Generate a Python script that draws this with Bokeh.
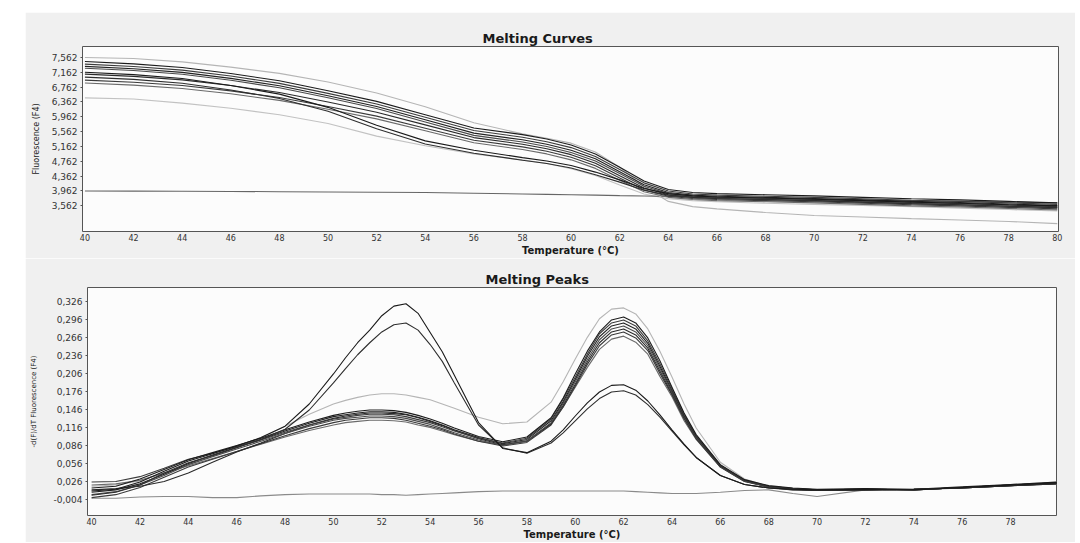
from bokeh.plotting import figure
from bokeh.layouts import column, row
from bokeh.models import FixedTicker, CustomJSTickFormatter, Range1d, Spacer
from bokeh.embed import file_html
from bokeh.resources import INLINE

# ---------------- data: Melting Curves (fluorescence) ----------------
T_TOP = [40, 42, 44, 46, 48, 50, 52, 54, 56, 58, 59, 60, 61, 62, 63, 64, 65, 66, 68, 70, 72, 74, 76, 78, 80]

CURVE_B1 = [7.450, 7.387, 7.289, 7.128, 6.931, 6.662, 6.376, 6.018, 5.660, 5.480, 5.360, 5.200, 4.960, 4.600, 4.230, 4.000, 3.920, 3.890, 3.860, 3.830, 3.790, 3.750, 3.720, 3.680, 3.640]
CURVE_B2 = [7.380, 7.317, 7.219, 7.058, 6.861, 6.592, 6.306, 5.948, 5.590, 5.410, 5.290, 5.130, 4.890, 4.540, 4.180, 3.960, 3.880, 3.850, 3.820, 3.790, 3.750, 3.710, 3.680, 3.640, 3.600]
CURVE_B3 = [7.320, 7.257, 7.158, 6.996, 6.798, 6.528, 6.240, 5.880, 5.520, 5.340, 5.220, 5.060, 4.830, 4.480, 4.130, 3.920, 3.850, 3.820, 3.790, 3.760, 3.720, 3.680, 3.650, 3.610, 3.570]
CURVE_B4 = [7.270, 7.207, 7.107, 6.944, 6.745, 6.474, 6.184, 5.822, 5.460, 5.280, 5.160, 5.000, 4.770, 4.430, 4.090, 3.890, 3.820, 3.790, 3.760, 3.730, 3.690, 3.650, 3.620, 3.580, 3.540]
CURVE_B5 = [7.110, 7.050, 6.956, 6.802, 6.614, 6.358, 6.084, 5.742, 5.400, 5.220, 5.100, 4.940, 4.710, 4.370, 4.040, 3.860, 3.790, 3.760, 3.730, 3.700, 3.660, 3.620, 3.590, 3.550, 3.510]
CURVE_B6 = [6.950, 6.893, 6.804, 6.658, 6.480, 6.237, 5.978, 5.654, 5.330, 5.150, 5.030, 4.870, 4.640, 4.310, 3.990, 3.820, 3.760, 3.730, 3.700, 3.670, 3.630, 3.590, 3.560, 3.520, 3.480]
CURVE_B7 = [6.870, 6.814, 6.725, 6.580, 6.403, 6.162, 5.904, 5.582, 5.260, 5.080, 4.960, 4.800, 4.570, 4.250, 3.940, 3.790, 3.730, 3.700, 3.670, 3.640, 3.600, 3.560, 3.530, 3.490, 3.450]
CURVE_A1 = [7.160, 7.097, 6.992, 6.803, 6.572, 6.215, 5.732, 5.312, 5.060, 4.860, 4.770, 4.650, 4.470, 4.260, 4.030, 3.890, 3.830, 3.800, 3.770, 3.740, 3.700, 3.660, 3.630, 3.590, 3.560]
CURVE_A2 = [7.030, 6.969, 6.866, 6.682, 6.456, 6.108, 5.636, 5.226, 4.980, 4.790, 4.700, 4.580, 4.400, 4.200, 3.980, 3.850, 3.790, 3.760, 3.730, 3.700, 3.660, 3.620, 3.590, 3.550, 3.520]
CURVE_L1 = [7.560, 7.530, 7.440, 7.300, 7.130, 6.900, 6.600, 6.230, 5.800, 5.500, 5.380, 5.250, 5.010, 4.600, 4.080, 3.680, 3.540, 3.480, 3.380, 3.300, 3.260, 3.215, 3.180, 3.140, 3.080]
CURVE_L2 = [6.470, 6.440, 6.330, 6.190, 6.015, 5.780, 5.440, 5.180, 4.960, 4.800, 4.700, 4.560, 4.380, 4.120, 3.880, 3.750, 3.700, 3.670, 3.630, 3.600, 3.570, 3.540, 3.500, 3.460, 3.420]
CURVE_NC = [3.962, 3.958, 3.953, 3.948, 3.942, 3.935, 3.928, 3.920, 3.900, 3.880, 3.870, 3.860, 3.850, 3.835, 3.825, 3.815, 3.800, 3.790, 3.770, 3.745, 3.720, 3.700, 3.680, 3.660, 3.640]

TOP_X_TICKS = [40, 42, 44, 46, 48, 50, 52, 54, 56, 58, 60, 62, 64, 66, 68, 70, 72, 74, 76, 78, 80]
TOP_Y_TICKS = [3.562, 3.962, 4.362, 4.762, 5.162, 5.562, 5.962, 6.362, 6.762, 7.162, 7.562]

# ---------------- data: Melting Peaks (-dF/dT) ----------------
T_BOT = [40, 41, 42, 43, 44, 45, 46, 47, 48, 49, 50,
         50.5, 51, 51.5, 52, 52.5, 53, 53.5, 54, 54.5, 55,
         56, 57, 58, 59,
         59.5, 60, 60.5, 61, 61.5, 62, 62.5, 63, 63.5, 64, 64.5, 65,
         66, 67, 68, 69, 70,
         72, 74, 76, 78, 80]

PEAK_B1 = [0.015, 0.018, 0.030, 0.046, 0.062, 0.074, 0.086, 0.098, 0.112, 0.125, 0.136,
           0.140, 0.143, 0.145, 0.145, 0.144, 0.141, 0.136, 0.130, 0.123, 0.115,
           0.101, 0.092, 0.100, 0.132,
           0.165, 0.205, 0.243, 0.275, 0.295, 0.300, 0.290, 0.265, 0.227, 0.183, 0.140, 0.104,
           0.054, 0.029, 0.019, 0.015, 0.013,
           0.014, 0.013, 0.017, 0.021, 0.025]
PEAK_B2 = [0.025, 0.026, 0.034, 0.048, 0.063, 0.073, 0.084, 0.095, 0.108, 0.120, 0.130,
           0.133, 0.136, 0.138, 0.138, 0.137, 0.134, 0.129, 0.124, 0.117, 0.110,
           0.098, 0.090, 0.098, 0.130,
           0.163, 0.200, 0.238, 0.272, 0.290, 0.295, 0.285, 0.260, 0.222, 0.180, 0.138, 0.102,
           0.053, 0.028, 0.018, 0.014, 0.012,
           0.013, 0.012, 0.016, 0.020, 0.024]
PEAK_B3 = [0.008, 0.012, 0.022, 0.038, 0.056, 0.070, 0.083, 0.096, 0.110, 0.123, 0.134,
           0.137, 0.140, 0.142, 0.142, 0.141, 0.138, 0.133, 0.127, 0.120, 0.112,
           0.099, 0.089, 0.096, 0.127,
           0.159, 0.196, 0.234, 0.267, 0.285, 0.290, 0.280, 0.256, 0.218, 0.177, 0.136, 0.101,
           0.052, 0.028, 0.018, 0.014, 0.012,
           0.012, 0.013, 0.015, 0.019, 0.023]
PEAK_B4 = [0.004, 0.009, 0.020, 0.036, 0.054, 0.067, 0.080, 0.093, 0.106, 0.118, 0.128,
           0.131, 0.133, 0.135, 0.135, 0.134, 0.131, 0.126, 0.121, 0.114, 0.107,
           0.095, 0.086, 0.093, 0.124,
           0.156, 0.192, 0.229, 0.262, 0.280, 0.285, 0.275, 0.252, 0.214, 0.174, 0.134, 0.099,
           0.051, 0.027, 0.017, 0.013, 0.012,
           0.013, 0.012, 0.016, 0.020, 0.023]
PEAK_B5 = [0.012, 0.014, 0.018, 0.026, 0.040, 0.058, 0.075, 0.090, 0.106, 0.120, 0.131,
           0.135, 0.138, 0.140, 0.140, 0.139, 0.137, 0.132, 0.126, 0.119, 0.111,
           0.097, 0.087, 0.093, 0.122,
           0.153, 0.188, 0.225, 0.257, 0.275, 0.280, 0.270, 0.248, 0.210, 0.172, 0.132, 0.098,
           0.051, 0.027, 0.017, 0.013, 0.011,
           0.012, 0.013, 0.015, 0.019, 0.022]
PEAK_B6 = [-0.001, 0.004, 0.016, 0.033, 0.050, 0.063, 0.076, 0.089, 0.102, 0.114, 0.124,
           0.128, 0.130, 0.132, 0.132, 0.131, 0.128, 0.123, 0.118, 0.112, 0.105,
           0.093, 0.085, 0.091, 0.120,
           0.150, 0.185, 0.221, 0.252, 0.270, 0.275, 0.265, 0.244, 0.206, 0.170, 0.130, 0.097,
           0.050, 0.026, 0.017, 0.013, 0.012,
           0.013, 0.012, 0.016, 0.020, 0.024]
PEAK_B7 = [0.020, 0.022, 0.028, 0.040, 0.052, 0.064, 0.076, 0.088, 0.100, 0.111, 0.120,
           0.124, 0.126, 0.128, 0.128, 0.127, 0.125, 0.120, 0.116, 0.110, 0.104,
           0.093, 0.087, 0.094, 0.122,
           0.150, 0.183, 0.216, 0.246, 0.263, 0.268, 0.258, 0.238, 0.201, 0.167, 0.127, 0.096,
           0.050, 0.026, 0.016, 0.012, 0.011,
           0.012, 0.013, 0.015, 0.019, 0.022]
PEAK_A1 = [0.010, 0.013, 0.025, 0.043, 0.060, 0.072, 0.085, 0.099, 0.118, 0.155, 0.205,
           0.232, 0.257, 0.278, 0.302, 0.318, 0.322, 0.306, 0.274, 0.242, 0.203,
           0.124, 0.081, 0.074, 0.093,
           0.112, 0.135, 0.157, 0.175, 0.186, 0.187, 0.178, 0.160, 0.137, 0.112, 0.088, 0.066,
           0.036, 0.021, 0.015, 0.013, 0.012,
           0.013, 0.012, 0.016, 0.020, 0.024]
PEAK_A2 = [0.003, 0.008, 0.020, 0.040, 0.057, 0.069, 0.082, 0.096, 0.113, 0.145, 0.190,
           0.214, 0.237, 0.257, 0.275, 0.287, 0.290, 0.278, 0.254, 0.226, 0.190,
           0.120, 0.082, 0.073, 0.090,
           0.107, 0.127, 0.147, 0.164, 0.175, 0.177, 0.170, 0.154, 0.133, 0.110, 0.087, 0.066,
           0.036, 0.021, 0.015, 0.012, 0.011,
           0.012, 0.013, 0.015, 0.019, 0.023]
PEAK_C = [0.018, 0.020, 0.027, 0.040, 0.055, 0.068, 0.082, 0.098, 0.118, 0.138, 0.155,
          0.161, 0.166, 0.170, 0.172, 0.172, 0.170, 0.166, 0.162, 0.155, 0.148,
          0.133, 0.122, 0.125, 0.158,
          0.192, 0.230, 0.266, 0.297, 0.313, 0.315, 0.305, 0.280, 0.243, 0.200, 0.155, 0.115,
          0.058, 0.030, 0.018, 0.014, 0.012,
          0.013, 0.012, 0.016, 0.021, 0.025]
PEAK_NC = [-0.002, -0.002, 0.000, 0.001, 0.001, -0.001, -0.001, 0.002, 0.004, 0.005, 0.005,
           0.005, 0.005, 0.005, 0.004, 0.004, 0.003, 0.004, 0.005, 0.006, 0.007,
           0.009, 0.010, 0.010, 0.010,
           0.010, 0.010, 0.010, 0.010, 0.010, 0.010, 0.009, 0.008, 0.007, 0.006, 0.006, 0.006,
           0.008, 0.011, 0.012, 0.006, 0.001,
           0.012, 0.012, 0.015, 0.019, 0.022]

BOT_X_TICKS = [40, 42, 44, 46, 48, 50, 52, 54, 56, 58, 60, 62, 64, 66, 68, 70, 72, 74, 76, 78]
BOT_Y_TICKS = [-0.004, 0.026, 0.056, 0.086, 0.116, 0.146, 0.176, 0.206, 0.236, 0.266, 0.296, 0.326]

TOP_SERIES = [
    (CURVE_L2, "#c2c2c2"), (CURVE_NC, "#666666"), (CURVE_L1, "#b5b5b5"),
    (CURVE_B7, "#6a6a6a"), (CURVE_B6, "#3a3a3a"), (CURVE_B5, "#2a2a2a"), (CURVE_B4, "#4a4a4a"),
    (CURVE_B3, "#222222"), (CURVE_B2, "#3c3c3c"), (CURVE_B1, "#1c1c1c"),
    (CURVE_A2, "#2e2e2e"), (CURVE_A1, "#1a1a1a"),
]
BOT_SERIES = [
    (PEAK_NC, "#8a8a8a"), (PEAK_C, "#b5b5b5"),
    (PEAK_B7, "#6a6a6a"), (PEAK_B6, "#3a3a3a"), (PEAK_B5, "#2a2a2a"), (PEAK_B4, "#4a4a4a"),
    (PEAK_B3, "#222222"), (PEAK_B2, "#3c3c3c"), (PEAK_B1, "#1c1c1c"),
    (PEAK_A2, "#2e2e2e"), (PEAK_A1, "#1a1a1a"),
]

FONT = "DejaVu Sans"
fmt = CustomJSTickFormatter(code="return tick.toFixed(3).replace('.', ',');")


def style(p, xticks, yticks, ylabel, ylabel_size, ylabel_standoff, title_offset):
    p.title.text_font = FONT
    p.title.text_font_size = "13px"
    p.title.text_font_style = "bold"
    p.title.text_color = "#1a1a1a"
    p.title.align = "left"
    p.title.offset = title_offset
    p.title.standoff = 2
    p.background_fill_color = "#fcfcfc"
    p.border_fill_color = "#f0f0f0"
    p.outline_line_color = "#555555"
    p.outline_line_width = 1
    p.grid.visible = False
    for ax in (p.xaxis[0], p.yaxis[0]):
        ax.axis_line_color = None
        ax.major_tick_in = 0
        ax.minor_tick_in = 0
        ax.minor_tick_out = 0
        ax.major_label_text_font = FONT
        ax.major_label_text_color = "#333333"
        ax.axis_label_text_font = FONT
        ax.axis_label_text_color = "#1a1a1a"
    xa = p.xaxis[0]
    xa.ticker = FixedTicker(ticks=xticks)
    xa.major_tick_out = 0
    xa.major_label_standoff = 2
    xa.major_label_text_font_size = "8px"
    xa.axis_label = "Temperature (°C)"
    xa.axis_label_text_font_size = "10px"
    xa.axis_label_text_font_style = "bold"
    xa.axis_label_standoff = 1
    ya = p.yaxis[0]
    ya.ticker = FixedTicker(ticks=yticks)
    ya.formatter = fmt
    ya.major_tick_out = 2
    ya.major_tick_line_color = "#555555"
    ya.major_label_standoff = 3
    ya.major_label_text_font_size = "9px"
    ya.axis_label = ylabel
    ya.axis_label_text_font_size = ylabel_size
    ya.axis_label_text_font_style = "normal"
    ya.axis_label_standoff = ylabel_standoff


p1 = figure(width=1050, height=246, title="Melting Curves",
            x_range=Range1d(39.9, 80.05), y_range=Range1d(2.869, 7.855),
            output_backend="svg", toolbar_location=None,
            min_border_left=57, min_border_right=17, min_border_top=34, min_border_bottom=25)
style(p1, TOP_X_TICKS, TOP_Y_TICKS, "Fluorescence (F4)", "8px", 8, 400)
for ys, c in TOP_SERIES:
    p1.line(T_TOP, ys, line_color=c, line_width=1.1)

p2 = figure(width=1050, height=284, title="Melting Peaks",
            x_range=Range1d(39.83, 79.9), y_range=Range1d(-0.0307, 0.349),
            output_backend="svg", toolbar_location=None,
            min_border_left=62, min_border_right=19, min_border_top=29, min_border_bottom=27)
style(p2, BOT_X_TICKS, BOT_Y_TICKS, "-d(F)/dT Fluorescence (F4)", "7px", 12, 398)
for ys, c in BOT_SERIES:
    p2.line(T_BOT, ys, line_color=c, line_width=1.1)

layout = row(Spacer(width=25), column(Spacer(height=12), row(p1), row(p2)))

with open("out.html", "w") as f:
    f.write(file_html(layout, INLINE))
